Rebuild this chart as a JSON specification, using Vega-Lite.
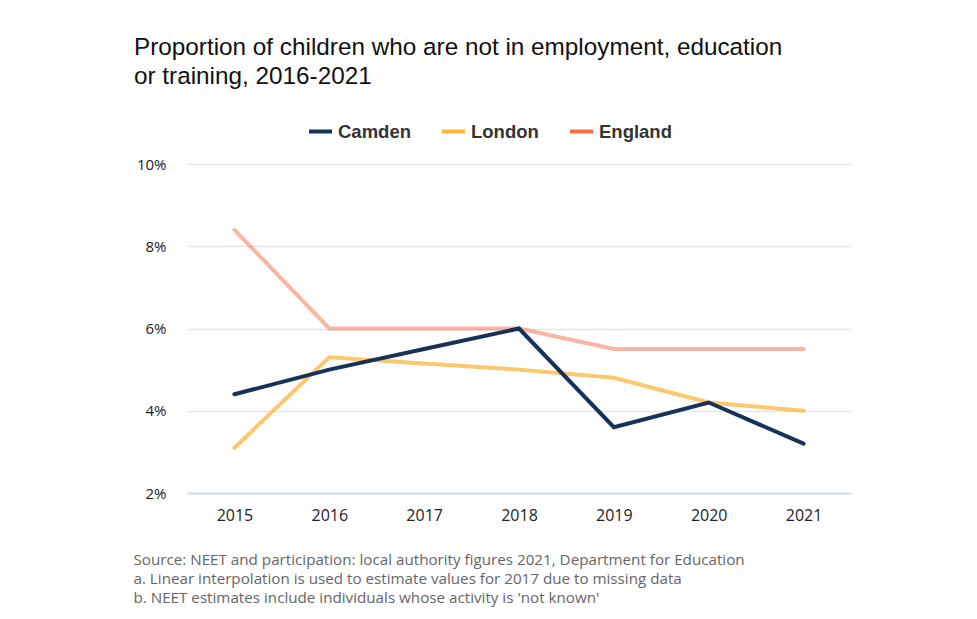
{
  "$schema": "https://vega.github.io/schema/vega-lite/v6.json",
  "width": 664,
  "height": 329,
  "padding": {"left": 133, "top": 35, "right": 10, "bottom": 5},
  "background": "white",
  "title": {
    "text": ["Proportion of children who are not in employment, education", "or training, 2016-2021"],
    "anchor": "start",
    "frame": "group",
    "dx": -53,
    "offset": 29,
    "font": "Liberation Sans",
    "fontSize": 24.3,
    "fontWeight": "normal",
    "color": "#111111",
    "lineHeight": 29
  },
  "data": {
    "values": [
      {"year": "2015", "area": "England", "value": 8.4},
      {"year": "2016", "area": "England", "value": 6.0},
      {"year": "2017", "area": "England", "value": 6.0},
      {"year": "2018", "area": "England", "value": 6.0},
      {"year": "2019", "area": "England", "value": 5.5},
      {"year": "2020", "area": "England", "value": 5.5},
      {"year": "2021", "area": "England", "value": 5.5},
      {"year": "2015", "area": "London", "value": 3.1},
      {"year": "2016", "area": "London", "value": 5.3},
      {"year": "2017", "area": "London", "value": 5.15},
      {"year": "2018", "area": "London", "value": 5.0},
      {"year": "2019", "area": "London", "value": 4.8},
      {"year": "2020", "area": "London", "value": 4.2},
      {"year": "2021", "area": "London", "value": 4.0},
      {"year": "2015", "area": "Camden", "value": 4.4},
      {"year": "2016", "area": "Camden", "value": 5.0},
      {"year": "2017", "area": "Camden", "value": 5.5},
      {"year": "2018", "area": "Camden", "value": 6.0},
      {"year": "2019", "area": "Camden", "value": 3.6},
      {"year": "2020", "area": "Camden", "value": 4.2},
      {"year": "2021", "area": "Camden", "value": 3.2}
    ]
  },
  "mark": {"type": "line", "strokeWidth": 4, "strokeCap": "round", "strokeJoin": "miter"},
  "encoding": {
    "x": {
      "field": "year",
      "type": "ordinal",
      "scale": {"type": "point", "padding": 0.5},
      "axis": {
        "labelAngle": 0,
        "labelFont": "Open Sans",
        "labelFontSize": 16,
        "labelColor": "#222222",
        "labelPadding": 14,
        "ticks": false,
        "domain": true,
        "domainColor": "#d6dcea",
        "domainWidth": 2,
        "grid": false,
        "title": [
          "Source: NEET and participation: local authority figures 2021, Department for Education",
          "a. Linear interpolation is used to estimate values for 2017 due to missing data",
          "b. NEET estimates include individuals whose activity is 'not known'"
        ],
        "titleFont": "Open Sans",
        "titleFontSize": 15.2,
        "titleFontWeight": "normal",
        "titleColor": "#666666",
        "titleAnchor": "start",
        "titleAlign": "left",
        "titleBaseline": "top",
        "titleX": -54,
        "titleY": 59,
        "titleLineHeight": 19
      }
    },
    "y": {
      "field": "value",
      "type": "quantitative",
      "scale": {"domain": [2, 10], "nice": false, "zero": false},
      "axis": {
        "values": [2, 4, 6, 8, 10],
        "labelExpr": "datum.value + '%'",
        "labelFont": "Open Sans",
        "labelFontSize": 15,
        "labelColor": "#222222",
        "labelPadding": 21,
        "ticks": false,
        "domain": false,
        "grid": true,
        "gridColor": "#e6e6e6",
        "gridWidth": 1.5,
        "title": null
      }
    },
    "color": {
      "field": "area",
      "type": "nominal",
      "scale": {"domain": ["Camden", "London", "England"], "range": ["#17325a", "#fbb43c", "#f56e48"]},
      "legend": {
        "orient": "none",
        "direction": "horizontal",
        "legendX": 120,
        "legendY": -46,
        "title": null,
        "symbolType": "stroke",
        "symbolSize": 529,
        "symbolStrokeWidth": 4,
        "labelFont": "Liberation Sans",
        "labelFontSize": 18.5,
        "labelFontWeight": "bold",
        "labelColor": "#333333",
        "labelOffset": 4,
        "columnPadding": 23,
        "padding": 0
      }
    },
    "strokeOpacity": {
      "field": "area",
      "type": "nominal",
      "scale": {"domain": ["Camden", "London", "England"], "range": [1, 0.5, 0.5]},
      "legend": null
    }
  },
  "config": {"view": {"stroke": null}}
}
